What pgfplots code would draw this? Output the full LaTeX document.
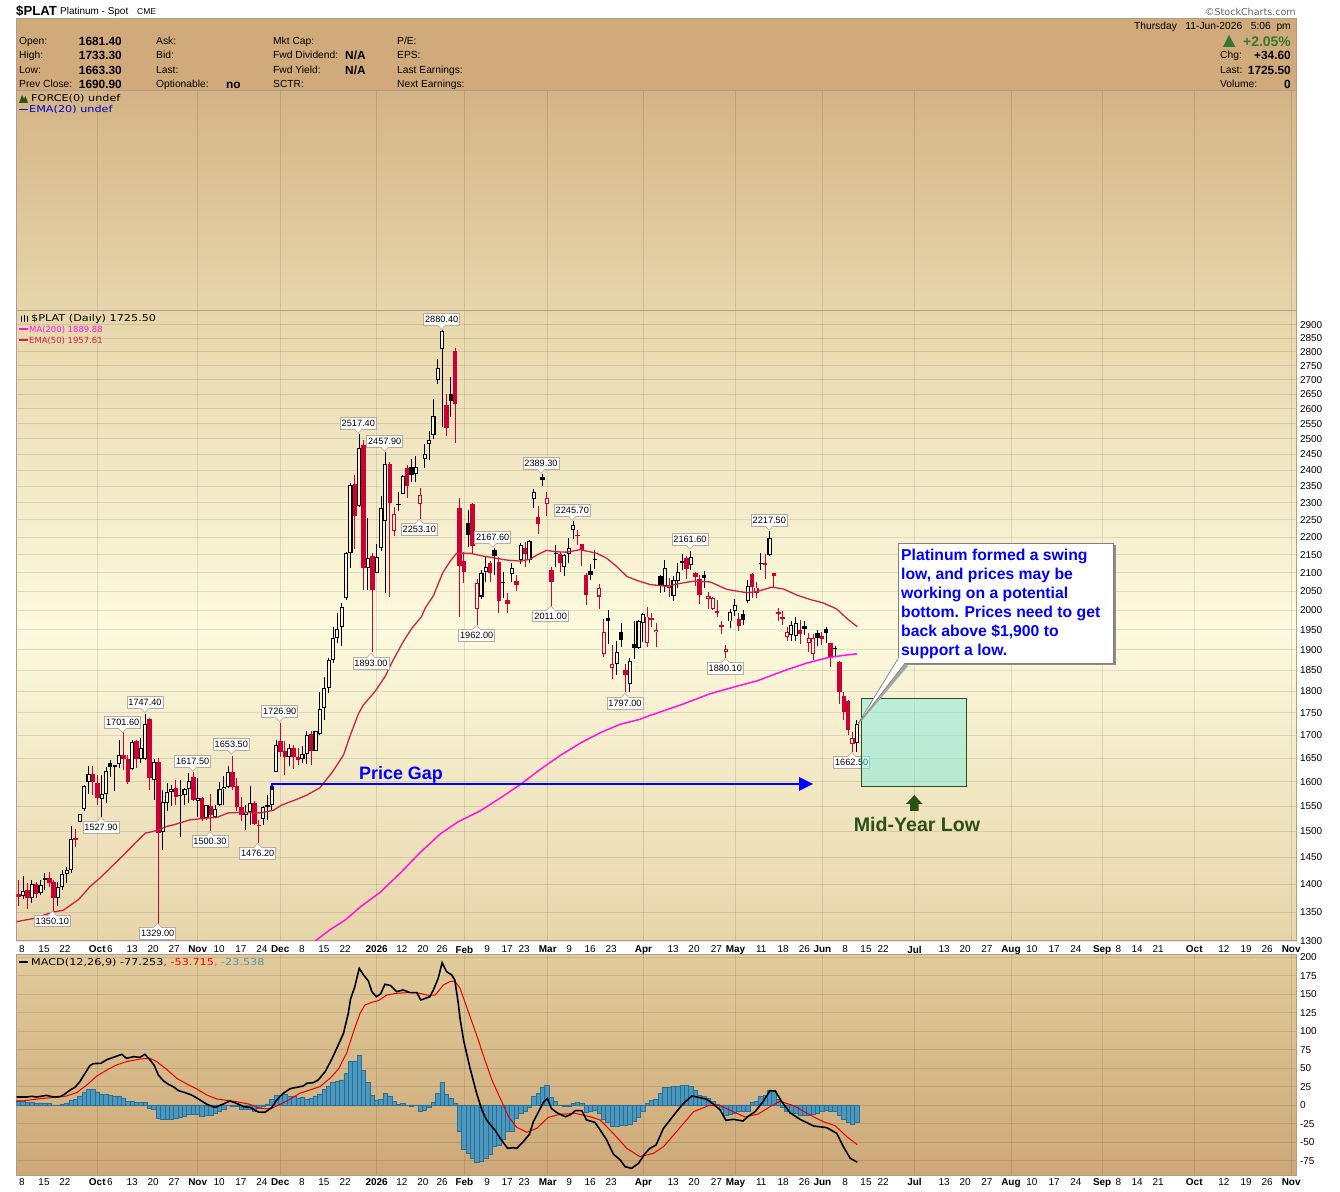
\documentclass[border=0pt]{standalone}
\usepackage{fontspec}
\usepackage{pgfplots}
\usepackage{pgfplotstable}
\pgfplotsset{compat=1.18}
\setmainfont{Liberation Sans}
\newfontfamily\dvs{DejaVu Sans}
\newfontfamily\dvsw[FakeStretch=1.2]{DejaVu Sans}
\definecolor{cred}{HTML}{CC0033}
\definecolor{ema}{HTML}{CC2248}
\definecolor{mag}{HTML}{FF14E0}
\definecolor{cream}{HTML}{F9F5D6}
\definecolor{frame}{HTML}{B39C8B}
\definecolor{lab}{HTML}{BBAA9C}
\definecolor{hist}{HTML}{4C97BE}
\definecolor{histd}{HTML}{2A6F96}
\definecolor{dkg}{HTML}{2A5018}
\definecolor{upg}{HTML}{337733}
\definecolor{hdr}{RGB}{208,170,122}
\definecolor{ptop}{RGB}{212,180,134}
\definecolor{pbot}{RGB}{231,214,172}
\definecolor{mtop}{RGB}{231,214,170}
\definecolor{mmid}{RGB}{252,250,222}
\definecolor{mbot}{RGB}{231,213,170}
\definecolor{qtop}{RGB}{226,203,155}
\definecolor{qbot}{RGB}{205,168,120}
\definecolor{boxf}{RGB}{130,235,225}

% i high low bodytop bodybottom
\pgfplotstableread{
i hi lo top bot
1 1414 1373 1388 1378
3 1408 1366 1400 1374
5 1408 1380 1398 1383
9 1404 1361 1395 1374
10 1426 1389 1418 1394
11 1432 1401 1425 1418
12 1509 1421 1484 1425
14 1534 1517 1534 1517
15 1593 1539 1591 1544
16 1633 1574 1615 1598
19 1613 1527.9 1575 1565
20 1630 1555 1622 1575
22 1635 1581 1634 1630
23 1689 1628 1656 1636
26 1689 1625 1684 1626
28 1693 1639 1671 1647
29 1747.4 1646 1725 1648
31 1648 1562 1641 1603
33 1583 1463 1557 1499
34 1596 1539 1579 1555
35 1593 1549 1584 1578
37 1603 1489 1573 1570
38 1586 1552 1585 1573
39 1617.5 1555 1601 1585
41 1607 1528 1567 1561
43 1552 1522 1551 1525
45 1552 1525 1543 1527
46 1598 1549 1584 1552
47 1611 1552 1589 1584
48 1632 1586 1619 1589
52 1552 1502 1537 1532
53 1591 1512 1555 1537
56 1549 1512 1547 1523
57 1572 1522 1551 1547
58 1593 1539 1590 1551
59 1689 1619 1678 1619
62 1681 1633 1671 1651
65 1676 1640 1658 1648
66 1709 1637 1701 1658
68 1710 1665 1708 1666
69 1799 1701 1758 1702
70 1833 1733 1807 1762
71 1879 1795 1874 1807
72 1956 1866 1928 1874
73 1992 1916 1952 1928
74 2018 1910 2008 1958
75 2158 2026 2154 2031
76 2360 2114 2354 2154
78 2517.4 2289 2470 2292
80 2255 2054 2140 2112
82 2179 2098 2143 2100
83 2321 2161 2284 2170
84 2457.9 2046 2419 2245
88 2386 2327 2383 2328
91 2445 2362 2409 2387
93 2483 2408 2450 2434
94 2527 2431 2496 2483
95 2633 2499 2575 2512
96 2774 2686 2742 2698
97 2880.4 2540 2877 2810
106 2108 2030 2099 2036
107 2146 2076 2117 2103
113 2126 2076 2112 2096
115 2182 2124 2176 2136
117 2192 2128 2189 2135
118 2342 2286 2332 2311
125 2152 2091 2150 2117
126 2196 2128 2168 2152
127 2245.7 2194 2234 2219
137 1922 1838 1893 1864
140 1879 1799 1872 1816
142 1975 1902 1972 1905
143 1992 1920 1990 1966
148 2135 2049 2112 2064
150 2090 2023 2080 2038
151 2126 2060 2101 2077
154 2161.6 2108 2143 2122
163 2004 1955 1995 1971
164 2030 1985 2013 1998
167 2081 2020 2063 2023
172 2217.5 2145 2197 2149
177 1971 1922 1961 1936
178 1982 1922 1966 1933
192 1733.3 1663.3 1725.5 1681.4
}\tabH
\pgfplotstableread{
i hi lo top bot
0 1408 1360 1382 1376
2 1401 1356 1389 1374
4 1403 1374 1400 1382
7 1423 1395 1411 1401
8 1408 1350.1 1403 1374
13 1505 1470 1486 1483
17 1632 1572 1615 1598
18 1613 1552 1596 1567
24 1706 1625 1656 1647
25 1656 1595 1647 1600
27 1689 1628 1687 1648
30 1738 1582 1736 1608
32 1649 1329 1641 1497
36 1603 1552 1586 1569
40 1621 1559 1609 1562
42 1569 1520 1567 1523
44 1575 1500.3 1549 1532
49 1653.5 1583 1620 1589
50 1607 1539 1590 1547
51 1569 1519 1547 1532
54 1559 1512 1555 1514
55 1522 1476.2 1512 1509
60 1726.9 1652 1687 1663
61 1686 1614 1665 1651
63 1679 1626 1671 1651
64 1671 1635 1651 1646
67 1708 1635 1702 1665
77 2386 2167 2358 2260
79 2497 2054 2481 2114
81 2156 1893 2146 2054
85 2427 2036 2420 2301
89 2417 2316 2407 2352
98 2651 2510 2612 2534
100 2813 2488 2802 2615
101 2314 1983 2284 2119
102 2158 2073 2132 2103
104 2301 2156 2297 2175
108 2131 2076 2126 2100
110 2144 1992 2130 2023
112 2044 1994 2027 2017
114 2093 2051 2078 2067
116 2187 2117 2169 2153
119 2291 2209 2257 2239
122 2117 2011 2108 2076
124 2158 2103 2152 2128
128 2220 2177 2205 2203
129 2180 2119 2179 2163
130 2099 2014 2094 2040
139 1864 1797 1850 1838
145 1992 1958 1979 1975
153 2146 2083 2141 2111
155 2103 2064 2099 2087
156 2094 2017 2082 2041
160 2027 1984 1998 1994
161 1971 1940 1961 1958
165 1992 1947 1978 1959
168 2100 2031 2097 2061
171 2153 2083 2126 2120
173 2100 2060 2100 2092
174 2005 1973 1995 1991
175 1998 1962 1984 1978
179 1975 1914 1949 1940
184 1945 1912 1934 1927
186 1917 1857 1916 1880
188 1871 1770 1870 1799
189 1797 1734 1789 1752
190 1779 1699 1777 1712
}\tabR
\pgfplotstableread{
i hi lo top bot
6 1421 1389 1411 1408
21 1646 1610 1639 1630
87 2334 2276 2297 2294
90 2436 2362 2409 2384
99 2710 2571 2651 2628
103 2279 2171 2241 2206
109 2167.6 2094 2163 2146
111 2101 2033 2076 2073
120 2389.3 2352 2378 2370
123 2177 2117 2155 2152
131 2123 2080 2105 2094
132 2163 2110 2137 2134
135 2001 1914 1980 1971
138 1966 1906 1945 1924
141 1971 1877 1913 1905
147 2094 2044 2091 2067
152 2152 2108 2133 2128
157 2106 2060 2094 2086
166 2001 1962 1990 1976
170 2155 2108 2126 2123
180 1971 1937 1959 1952
183 1949 1909 1941 1929
185 1958 1917 1952 1942
187 1909 1883 1904 1902
}\tabB
\pgfplotstableread{
i hi lo top bot
86 2289 2203 2268 2216
92 2344 2253.1 2323 2298
105 2082 1962 2071 2004
121 2333 2261 2314 2296
133 2069 2003 2058 2036
134 1978 1881 1943 1888
136 1912 1830 1864 1856
144 2008 1907 1984 1917
146 1966 1907 1949 1943
149 2085 2034 2067 2060
158 2047 2004 2038 2029
159 2034 2001 2031 2004
162 1912 1880.1 1901 1895
169 2075 2031 2060 2044
176 1958 1922 1945 1932
181 1941 1895 1928 1917
182 1939 1875 1928 1888
191 1707 1662.5 1693 1680
}\tabRH
\pgfplotstableread{
i p
-0.5 1333
3.7 1339
7.9 1350
10.2 1353
13.7 1372
16.3 1395
18.6 1411
20.9 1429
24 1454
26.6 1476
29 1496
31.6 1501
33.9 1509
36.2 1514
39.2 1522
42.3 1525
45.4 1527
48 1536
51.5 1537
55.3 1536
58.3 1541
60.3 1552
63.3 1562
66 1572
69 1587
71.7 1618
74.4 1656
75.9 1698
77.8 1747
78.9 1767
81.6 1799
83.9 1834
85.8 1875
88.1 1920
90 1953
92.3 1984
93.1 2005
95 2038
97.1 2099
98.8 2131
100.3 2154
103.4 2154
106.4 2146
111.8 2135
114.8 2132
117.1 2137
119 2151
120.9 2162
123.3 2158
125.5 2157
128.6 2164
132.4 2154
134.7 2140
137 2117
139.3 2090
141.6 2079
144.6 2068
148.5 2063
151.5 2071
154.6 2077
158.4 2075
162.2 2055
166.8 2046
169.1 2049
172.5 2061
175.2 2056
178.2 2040
181.3 2028
184.3 2019
187.4 2003
189.7 1979
192.1 1957.61
}\tabEMA
\pgfplotstableread{
i p
67.9 1300
71.3 1319
74.8 1336
78.6 1361
82.8 1385
87.4 1420
91.9 1458
96.5 1494
100.6 1518
105.7 1540
110.3 1566
114.8 1593
119.4 1625
124 1655
128.6 1682
133.2 1705
137.8 1724
142.3 1735
144.6 1744
148.5 1757
152.2 1770
158.4 1794
164.7 1812
169.1 1824
175.2 1848
180.5 1867
185.2 1880
189 1886
192.1 1889.88
}\tabMA
\pgfplotstableread{
i v
0 5.9
1 4.5
2 4
3 3.6
4 2.3
5 2.3
6 2.3
7 2.3
8 -0.9
9 -0.5
10 0.9
11 2.3
12 6.8
13 7.7
14 12.2
15 17.6
16 21.2
17 21.2
18 17.6
19 14.4
20 14.4
21 13.5
22 12.2
23 12.2
24 9.5
25 4.5
26 5.4
27 3.2
28 3.2
29 4
30 -4.5
31 -5.9
32 -17.6
33 -19.8
34 -19.8
35 -18.9
36 -18
37 -17
38 -15.8
39 -13
40 -13
41 -13
42 -15.8
43 -14.4
44 -14
45 -11.3
46 -8.6
47 -5.4
48 -0.9
49 -1.4
50 -2.3
51 -6.3
52 -6.3
53 -5.9
54 -9
55 -4.5
56 -2.3
57 1.4
58 8
59 12.6
60 12.6
61 14
62 12.2
63 11.3
64 9.5
65 10.8
66 8
67 9
68 12.2
69 14.9
70 21.2
71 25.7
72 30.2
73 32
74 33.8
75 42.8
76 59.5
77 59.5
78 67
79 46.4
80 30.6
81 13
82 5.9
83 8
84 16.2
85 12.2
86 5
87 0.9
88 2.3
89 -0.5
90 -1.4
91 -0.9
92 -8.6
93 -6.8
94 -3.2
95 4
96 16.2
97 30.6
98 14.4
99 9
100 2.3
101 -36
102 -60
103 -66
104 -72
105 -78
106 -76.6
107 -72
108 -67
109 -56
110 -54
111 -46
112 -36
113 -36
114 -18.5
115 -12
116 -9
117 -3.6
118 12
119 15
120 24
121 26
122 10
123 5.4
124 -0.5
125 -2
126 -1.4
127 2.3
128 4
129 2.3
130 -10
131 -9
132 -7
133 -11
134 -20
135 -23
136 -29
137 -29
138 -28
139 -28
140 -26
141 -22
142 -17
143 -8
144 2
145 6
146 8
147 16
148 24
149 24
150 25
151 25
152 27
153 26
154 25
155 20
156 13
157 12
158 9
159 4.5
160 1.4
161 -5.4
162 -14
163 -13
164 -11
165 -8.6
166 -8.6
167 -8.6
168 3.6
169 5
170 12
171 13
172 20
173 19
174 8
175 -2.7
176 -9
177 -11
178 -11
179 -13.5
180 -13.5
181 -14.4
182 -13
183 -12
184 -9
185 -7.7
186 -9
187 -9
188 -13.5
189 -19
190 -23
191 -26.6
192 -23.538
}\tabHist
\pgfplotstableread{
i v
-0.5 10.8
1.8 10.8
3 11.7
4.1 10.8
6.4 13
7.9 10.8
9.5 11.3
10.6 14.9
11.8 20.3
12.9 23.9
14 31.5
15.2 42.8
16.3 53.2
17.1 55.9
18.8 56.3
20.2 61.3
21.7 64.4
23.6 68.5
24.7 63.1
26.3 65.3
27.8 64.4
28.9 68.5
30.1 60.8
31 54.1
32 40.5
33.1 32.9
34.3 27.9
35.4 24.8
36.6 19.4
38.1 16.7
39.6 13.5
41.2 8.1
43.1 0.9
45 -3.2
46.9 1.4
48.4 5.4
49.9 2.3
51.5 -2.3
53 -3.2
54.9 -9.5
56.4 -9.9
58 -3.2
59.1 6.8
60.6 15.8
62.2 22.1
63.7 23.9
65.2 25.7
66 29.3
67.5 30.2
68.6 33.8
70.2 45
71.7 61.7
73.2 81.1
74.4 96.8
75.5 123.9
76 142.8
77 159.9
78 184.7
79 175.7
80.1 167.6
80.9 153.2
81.9 146.4
82.9 150
83.9 163.1
85.1 161.7
86.6 153.2
88.1 155.4
89.7 151.8
91.2 151.8
92.1 141.9
94.2 146.4
95 155.4
96.1 171.2
97 192.3
98 180.2
99.2 175.7
99.9 168.9
100.7 137.4
101.1 117.1
101.9 87.8
103.4 49.5
104.9 15.8
106.1 -6.8
107.2 -20.3
108.4 -29.3
109.1 -33.8
110.3 -45
112 -58.6
113.3 -57.7
114.1 -58.6
115.6 -49.5
117 -39.6
117.9 -22.5
119.1 -9
120.2 3.6
121.1 9
122 -4.5
123.3 -10.4
125.2 -15.8
126.3 -13.5
127.5 -7.7
129 -7.7
130.1 -20.3
132 -23.4
133.2 -33.8
134.7 -47.3
136.2 -66.2
137.8 -74.3
138.9 -83.3
140.4 -85.6
142 -78.8
143.5 -65.3
144.6 -58.6
146 -54.1
147.7 -31.5
149.2 -20.3
150.7 -9
152.3 2.3
154.2 12.2
155.7 10.4
157.6 7.7
159.1 1.4
160.7 -6.8
162 -20.7
163.7 -19.4
165.9 -21.6
167.2 -14.9
168.7 -9
170.6 5.4
172.1 19.4
173.3 18.9
174.8 4.5
176.7 -10.4
179 -19.4
182.1 -28.4
185.1 -30.6
187.4 -38.3
188.9 -56.3
190.5 -72.1
192.1 -77.253
}\tabMACD
\pgfplotstableread{
i v
-0.5 4.5
2.6 6.8
5.6 9
8.7 10.4
11 12.2
13.3 16.7
15.6 27
17.9 39.2
20.2 47.3
22.4 54.1
24.7 58.6
27.8 62.2
30.1 63.1
31.6 58.6
33.9 48.2
36.2 36
38.5 28.4
40.8 21.6
43.1 13.5
45.4 8.1
47.6 6.3
49.9 4.5
53 0.9
55.3 -4.5
57.6 -5.4
59.9 0.9
62.2 8.1
64.4 15.8
66.7 20.3
69 24.8
71.3 36
73.2 48.2
75.1 69.8
76.7 99.1
78.2 123.9
79.3 135.1
80.9 138.7
82.4 141
84.3 148.6
86.6 150.9
88.9 151.8
91.2 151.8
93.5 148.6
95.4 148.6
97.3 162.2
98.8 166.7
99.9 167.6
101.1 157.7
105.3 87.8
106.4 67.6
108.4 33.8
110.3 9
112.2 -15.8
114.1 -30.2
116.4 -36.9
118.7 -31.5
121.3 -16.7
124 -12.6
127.5 -11.3
130.9 -15.8
133.2 -20.3
136.2 -38.3
139.3 -58.6
142.3 -69.8
145.4 -65.3
147.7 -56.3
150.7 -36
154.6 -9
158 -0.9
160.7 -0.9
163.7 -9
166.4 -16.2
169.4 -12.2
172.1 -2.3
174.4 5
177.5 -0.9
181.3 -13.5
184.3 -22.5
187 -27.9
189.7 -42.8
192.1 -53.715
}\tabSig

\newcommand\candleset[3]{%
 \addplot[forget plot,draw=none,mark=none,error bars/.cd,y dir=plus,y explicit,error mark=none,
   error bar style={draw=#2,line width=1bp}]
   table[x=i,y=lo,y error plus expr={\thisrow{hi}-\thisrow{lo}}]{#1};
 \addplot[forget plot,draw=none,mark=none,error bars/.cd,y dir=plus,y explicit,error mark=none,
   error bar style={draw=#2,line width=#3}]
   table[x=i,y=bot,y error plus expr={\thisrow{top}-\thisrow{bot}}]{#1};
}
\newcommand\hollowset[1]{%
 \addplot[forget plot,draw=none,mark=none,error bars/.cd,y dir=plus,y explicit,error mark=none,
   error bar style={draw=cream,line width=2.0bp}]
   table[x=i,y expr={\thisrow{bot}*1.0013},y error plus expr={max(\thisrow{top}*0.9987-\thisrow{bot}*1.0013,0)}]{#1};
}
\pgfplotsset{
 timeaxis/.style={
  scale only axis,width=1279.5bp,anchor=south west,
  xmin=-0.504,xmax=292.6,
  major tick length=0pt,minor tick length=0pt,
  axis line style={draw=frame,line width=1bp},
  xmajorgrids,ymajorgrids,
  grid style={black,opacity=0.1,line width=0.8bp},
  xtick={18,41,59.9,82,102.1,121.2,143.1,164.2,184.1,205.2,227.3,248.2,269.3,291.5},
  yticklabel pos=right,
  tick label style={font=\fontsize{10}{10}\selectfont},
  clip=true,
 },
 datelabels/.style={
  xticklabels={\textbf{Oct},\textbf{Nov},\textbf{Dec},\textbf{2026},\textbf{Feb},\textbf{Mar},\textbf{Apr},\textbf{May},\textbf{Jun},\textbf{Jul},\textbf{Aug},\textbf{Sep},\textbf{Oct},\textbf{Nov}},
  extra x ticks={0.76,5.8,10.6,20.9,26,30.8,35.6,45.9,50.9,55.7,64.9,69.9,74.8,87.8,92.6,97,107.3,111.9,115.8,126.1,130.9,135.7,149.9,154.7,159.8,170.1,175.1,180,189.3,194.1,198,212,216.8,221.8,232.1,237.2,242.2,251.9,256.2,261,276.1,281.2,286},
  extra x tick labels={8,15,22,6,13,20,27,10,17,24,8,15,22,12,20,26,9,17,23,9,16,23,13,20,27,11,18,26,8,15,22,13,20,27,10,17,24,8,14,21,12,19,26},
  extra x tick style={grid=none},
  typeset ticklabels with strut,
 },
}
\newcommand\T[5]{\node[anchor=#3,inner sep=0pt,font=#4] at (#1,#2) {#5};}
\newcommand\labU[3]{%
 \node[fill=white,draw=lab,line width=0.9bp,minimum width=36bp,minimum height=11.5bp,inner sep=0pt,font=\fontsize{9.2}{9.2}\selectfont] at (#1,#2) {#3};
 \fill[white] (#1-4,#2-5.2) -- (#1,#2-10) -- (#1+4,#2-5.2) -- cycle;
 \draw[lab,line width=0.6bp] (#1-4,#2-5.8) -- (#1,#2-10) -- (#1+4,#2-5.8);}
\newcommand\labD[3]{%
 \node[fill=white,draw=lab,line width=0.9bp,minimum width=36bp,minimum height=11.5bp,inner sep=0pt,font=\fontsize{9.2}{9.2}\selectfont] at (#1,#2) {#3};
 \fill[white] (#1-4,#2+5.2) -- (#1,#2+10) -- (#1+4,#2+5.2) -- cycle;
 \draw[lab,line width=0.6bp] (#1-4,#2+5.8) -- (#1,#2+10) -- (#1+4,#2+5.8);}

\begin{document}
\begin{tikzpicture}
\path[use as bounding box] (0,0) rectangle (1340bp,1192bp);
\fill[white] (0,0) rectangle (1340bp,1192bp);

% upper empty indicator panel
\begin{axis}[timeaxis,at={(16.5bp,881bp)},height=220bp,ymin=0,ymax=1,
  ytick=\empty,xticklabels={},ymajorgrids=false,
  axis background/.style={top color=ptop,bottom color=pbot}]
 \addplot[draw=none,forget plot] coordinates {(0,0.5)};
\end{axis}

% price panel
\begin{axis}[timeaxis,datelabels,at={(16.5bp,251bp)},height=630bp,
  ymode=log,ymin=1300,ymax=2953.4,
  ytick={1300,1350,1400,1450,1500,1550,1600,1650,1700,1750,1800,1850,1900,1950,2000,2050,2100,2150,2200,2250,2300,2350,2400,2450,2500,2550,2600,2650,2700,2750,2800,2850,2900},
  yticklabels={1300,1350,1400,1450,1500,1550,1600,1650,1700,1750,1800,1850,1900,1950,2000,2050,2100,2150,2200,2250,2300,2350,2400,2450,2500,2550,2600,2650,2700,2750,2800,2850,2900},
  yticklabel style={xshift=0.5bp,yshift=-1.5bp},
  xticklabel style={yshift=-1.5bp},
  axis background/.style={top color=mtop,bottom color=mbot,middle color=mmid}]
 \candleset{\tabH}{black}{4.2bp}\hollowset{\tabH}
 \candleset{\tabRH}{cred}{4.2bp}\hollowset{\tabRH}
 \candleset{\tabB}{black}{4.2bp}
 \candleset{\tabR}{cred}{4.5bp}
 \addplot[forget plot,draw=mag,line width=1.5bp] table[x=i,y=p]{\tabMA};
 \addplot[forget plot,draw=ema,line width=1.3bp] table[x=i,y=p]{\tabEMA};
\end{axis}

% MACD panel
\begin{axis}[timeaxis,datelabels,at={(16.5bp,16.5bp)},height=220.5bp,
  ymin=-95.27,ymax=202.7,
  ytick={-75,-50,-25,0,25,50,75,100,125,150,175,200},
  yticklabels={-75,-50,-25,0,25,50,75,100,125,150,175,200},
  yticklabel style={xshift=0.5bp,yshift=-2bp},
  xticklabel style={yshift=0.5bp},
  axis background/.style={top color=qtop,bottom color=qbot}]
 \addplot[forget plot,ybar,bar width=4.36bp,bar shift=0pt,fill=hist,draw=histd,line width=0.8bp] table[x=i,y=v]{\tabHist};
 \addplot[forget plot,draw=red!90!black,line width=1bp] table[x=i,y=v]{\tabSig};
 \addplot[forget plot,draw=black,line width=1.6bp] table[x=i,y=v]{\tabMACD};
\end{axis}

\begin{scope}[shift={(0bp,1192bp)},x=1bp,y=-1bp]
% header
\fill[hdr] (16.5,19) rectangle (1296,91);
\draw[frame,line width=1bp] (16.5,19) rectangle (1296,91);
\T{16}{16}{base west}{\fontsize{13.2}{13}\selectfont\bfseries}{\$PLAT}
\T{60}{15}{base west}{\fontsize{10}{10}\selectfont}{Platinum - Spot}
\T{137}{15}{base west}{\fontsize{8.5}{9}\selectfont}{CME}
\T{1296}{16}{base east}{\dvs\fontsize{9.6}{9}\selectfont\color{black!60}}{©StockCharts.com}
\def\h{\fontsize{10.3}{10}\selectfont}
\def\hb{\fontsize{11.9}{12}\selectfont\bfseries}
\T{19}{45}{base west}{\h}{Open:}
\T{19}{59}{base west}{\h}{High:}
\T{19}{74}{base west}{\h}{Low:}
\T{19}{88}{base west}{\h}{Prev Close:}
\T{122}{45.5}{base east}{\hb}{1681.40}
\T{122}{60}{base east}{\hb}{1733.30}
\T{122}{74.5}{base east}{\hb}{1663.30}
\T{122}{89}{base east}{\hb}{1690.90}
\T{156}{45}{base west}{\h}{Ask:}
\T{156}{59}{base west}{\h}{Bid:}
\T{156}{74}{base west}{\h}{Last:}
\T{156}{88}{base west}{\h}{Optionable:}
\T{226}{89}{base west}{\hb}{no}
\T{273}{45}{base west}{\h}{Mkt Cap:}
\T{273}{59}{base west}{\h}{Fwd Dividend:}
\T{273}{74}{base west}{\h}{Fwd Yield:}
\T{273}{88}{base west}{\h}{SCTR:}
\T{345}{60}{base west}{\hb}{N/A}
\T{345}{74.5}{base west}{\hb}{N/A}
\T{397}{45}{base west}{\h}{P/E:}
\T{397}{59}{base west}{\h}{EPS:}
\T{397}{74}{base west}{\h}{Last Earnings:}
\T{397}{88}{base west}{\h}{Next Earnings:}
\T{1291}{30}{base east}{\h}{Thursday\ \ \ 11-Jun-2026\ \ \ 5:06\ \ pm}
\fill[upg] (1223,47) -- (1229,35) -- (1235.5,47) -- cycle;
\T{1291}{46.5}{base east}{\fontsize{14}{14}\selectfont\bfseries\color{upg}}{+2.05\%}
\T{1220}{59}{base west}{\h}{Chg:}
\T{1291}{60}{base east}{\hb}{+34.60}
\T{1220}{74}{base west}{\h}{Last:}
\T{1291}{74.5}{base east}{\hb}{1725.50}
\T{1220}{88}{base west}{\h}{Volume:}
\T{1291}{89}{base east}{\hb}{0}
% indicator legends
\def\lg{\dvsw\fontsize{9.4}{9}\selectfont}
\fill[dkg] (19,103) -- (22,95) -- (24,99) -- (25.5,96) -- (28,103) -- cycle;
\T{31}{102}{base west}{\lg}{FORCE(0) undef}
\fill[blue!70!black] (19,109) rectangle (28,110.5);
\T{29}{113}{base west}{\lg\color{blue!80!black}}{EMA(20) undef}
\draw[black,line width=1bp] (21,316) -- (21,322) (24,315) -- (24,322) (27,316) -- (27,322);
\T{31}{322}{base west}{\lg}{\$PLAT (Daily) 1725.50}
\fill[mag] (19,328.5) rectangle (28,330);
\T{29}{332.5}{base west}{\dvs\fontsize{8.5}{8}\selectfont\color{mag}}{MA(200) 1889.88}
\fill[ema] (19,339.5) rectangle (28,341);
\T{29}{343.5}{base west}{\dvs\fontsize{8.5}{8}\selectfont\color{ema}}{EMA(50) 1957.61}
\fill[black] (19,961.5) rectangle (28,963);
\T{31}{966}{base west}{\lg}{MACD(12,26,9) -77.253{\color{red}, -53.715}{\color{hist}, -23.538}}
% value labels
\labU{52.3}{921}{1350.10}
\labU{101}{827.3}{1527.90}
\labD{122.7}{722.7}{1701.60}
\labD{145}{702.7}{1747.40}
\labU{157.7}{933.3}{1329.00}
\labD{192.7}{761.3}{1617.50}
\labD{231.3}{744.3}{1653.50}
\labU{210}{841.7}{1500.30}
\labU{257.7}{853.3}{1476.20}
\labD{279.7}{711.7}{1726.90}
\labD{358.3}{423.3}{2517.40}
\labD{384.7}{441.3}{2457.90}
\labU{419.3}{529.3}{2253.10}
\labD{441.7}{319.3}{2880.40}
\labU{371}{663.3}{1893.00}
\labD{541}{463.3}{2389.30}
\labD{572.3}{510.3}{2245.70}
\labD{492.7}{537.3}{2167.60}
\labU{476.7}{635.3}{1962.00}
\labU{550.7}{616}{2011.00}
\labU{625}{703.3}{1797.00}
\labD{690}{539.3}{2161.60}
\labD{769.3}{520.3}{2217.50}
\labU{725.3}{668.3}{1880.10}
\labU{851.7}{762.3}{1662.50}
% price gap
\T{401}{779.5}{base}{\fontsize{18}{18}\selectfont\bfseries\color{blue}}{Price Gap}
\draw[blue,line width=2bp] (271.5,790) -- (271.5,784) -- (802,784);
\fill[blue] (799,777) -- (813,784) -- (799,791) -- cycle;
% mid-year box
\fill[boxf,opacity=0.5] (861.3,698.3) rectangle (966.7,786.7);
\draw[dkg,line width=1bp] (861.3,698.3) rectangle (966.7,786.7);
\fill[dkg] (906,804) -- (914.3,795) -- (922.5,804) -- (918.6,804) -- (918.6,811) -- (910,811) -- (910,804) -- cycle;
\T{917}{832}{base}{\fontsize{19.7}{20}\selectfont\bfseries\color{dkg}}{Mid-Year Low}
% callout
\fill[black!45] (900.5,545.5) rectangle (1115.5,665.5);
\fill[black!35] (858.3,725) -- (899.5,660) -- (908,666) -- cycle;
\fill[white] (858.3,723.3) -- (898.3,658.3) -- (905,663.3) -- cycle;
\draw[black!50,line width=0.7bp] (858.3,723.3) -- (898.3,658.3);
\draw[black!50,line width=0.7bp] (858.3,723.3) -- (905,663.3);
\fill[white] (898.3,543.3) rectangle (1113.3,663.3);
\draw[black!50,line width=1bp] (898.3,543.3) -- (1113.3,543.3) -- (1113.3,663.3) -- (905,663.3) (898.3,658.3) -- (898.3,543.3);
\def\cf{\fontsize{15.8}{19}\selectfont\bfseries\color{blue}}
\T{901}{561}{base west}{\cf}{Platinum formed a swing}
\T{901}{580}{base west}{\cf}{low, and prices may be}
\T{901}{599}{base west}{\cf}{working on a potential}
\T{901}{618}{base west}{\cf}{bottom. Prices need to get}
\T{901}{637}{base west}{\cf}{back above \$1,900 to}
\T{901}{656}{base west}{\cf}{support a low.}
\end{scope}
\end{tikzpicture}
\end{document}
